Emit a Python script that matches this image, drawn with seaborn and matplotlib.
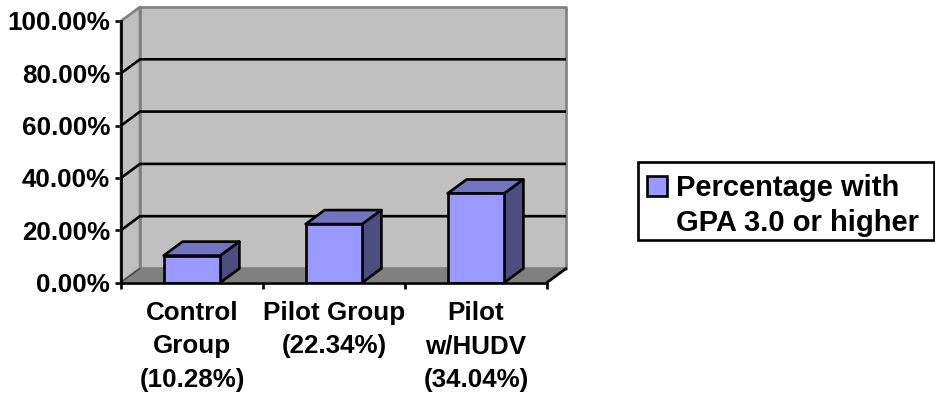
import matplotlib
matplotlib.use("Agg")
import matplotlib.pyplot as plt
from matplotlib.patches import Polygon
import pandas as pd
import seaborn as sns

categories = ["Control\nGroup\n(10.28%)", "Pilot Group\n(22.34%)", "Pilot\nw/HUDV\n(34.04%)"]
values = [10.28, 22.34, 34.04]
series_name = "Percentage with\nGPA 3.0 or higher"
y_ticks = [0, 20, 40, 60, 80, 100]
y_tick_labels = ["0.00%", "20.00%", "40.00%", "60.00%", "80.00%", "100.00%"]

FRONT, TOP, SIDE = "#9999FF", "#7373BF", "#4D4D80"
WALL, FLOOR = "#C0C0C0", "#808080"
EDGE_LW = 1.9

sns.set_style("white")
plt.rcParams["font.family"] = ["Liberation Sans", "DejaVu Sans"]
plt.rcParams["font.weight"] = "bold"
plt.rcParams["text.color"] = "black"
plt.rcParams["xtick.labelcolor"] = "black"
plt.rcParams["ytick.labelcolor"] = "black"

W, H = 935, 396
fig = plt.figure(figsize=(W / 100, H / 100), dpi=100)
# Front plane of the pseudo-3D box
ax = fig.add_axes([121 / W, 1 - 282.5 / H, 426 / W, 261.5 / H])
ax.patch.set_visible(False)

df = pd.DataFrame({"group": categories, "share": values})
sns.barplot(data=df, x="group", y="share", order=categories, color=FRONT, saturation=1,
            width=0.4, edgecolor="black", linewidth=EDGE_LW, ax=ax, zorder=5,
            label=series_name)
ax.set_xlim(-0.5, 2.5)
ax.set_ylim(0, 100)
ax.set_xlabel("")
ax.set_ylabel("")

# Receding depth of the box, in data units
DX, DY = 19 / 142, 14 / 2.615


def poly(points, face, edge="none", lw=0.0, z=1):
    ax.add_patch(Polygon(points, closed=True, facecolor=face, edgecolor=edge,
                         linewidth=lw, clip_on=False, zorder=z, joinstyle="round"))


# Back wall, left wall and floor
x0, x1 = -0.5, 2.5
poly([(x0 + DX, DY), (x1 + DX, DY), (x1 + DX, 100 + DY), (x0 + DX, 100 + DY)], WALL, FLOOR, EDGE_LW, 1)
poly([(x0, 0), (x0 + DX, DY), (x0 + DX, 100 + DY), (x0, 100)], WALL, FLOOR, EDGE_LW, 1)
poly([(x0, 0), (x1, 0), (x1 + DX, DY), (x0 + DX, DY)], FLOOR, z=2)
ax.plot([x0, x0 + DX, x1 + DX, x1], [0, DY, DY, 0], color=FLOOR, lw=EDGE_LW, clip_on=False, zorder=2)

# Gridlines run across the back wall and down the left wall
for t in y_ticks[1:-1]:
    ax.plot([x0, x0 + DX, x1 + DX], [t, t + DY, t + DY], color="black", lw=EDGE_LW,
            clip_on=False, zorder=3, solid_capstyle="butt")
ax.plot([x0, x0 + DX], [0, DY], color="#404040", lw=0.8, clip_on=False, zorder=3)
ax.plot([x1, x1 + DX], [0, DY], color="black", lw=EDGE_LW, clip_on=False, zorder=3)

# Top and side faces of each bar
half = 0.2
for i, v in enumerate(values):
    l, r = i - half, i + half
    poly([(l, v), (r, v), (r + DX, v + DY), (l + DX, v + DY)], TOP, "black", EDGE_LW, 4)
    poly([(r, 0), (r, v), (r + DX, v + DY), (r + DX, DY)], SIDE, "black", EDGE_LW, 4)

ax.set_yticks(y_ticks, y_tick_labels, fontsize=18.7, fontweight="bold")
ax.set_xticks(range(len(categories)), categories, fontsize=18.7, fontweight="bold", linespacing=1.52)
ax.set_xticks([-0.5, 0.5, 1.5, 2.5], minor=True)
ax.tick_params(axis="y", which="major", left=True, length=4.5, width=EDGE_LW, pad=3.5, color="black")
ax.tick_params(axis="x", which="major", bottom=False, length=0, pad=13)
ax.tick_params(axis="x", which="minor", bottom=True, length=4, width=EDGE_LW, color="black")

sns.despine(ax=ax, top=True, right=True)
for side in ("left", "bottom"):
    ax.spines[side].set_color("black")
    ax.spines[side].set_linewidth(EDGE_LW)
    ax.spines[side].set_zorder(6)

# Boxed legend on the right, stretched to its full box width
leg = ax.legend(loc="upper left", bbox_to_anchor=(638 / W, 1 - 162 / H, 296 / W, 0.0001),
                bbox_transform=fig.transFigure, mode="expand",
                prop={"family": "Liberation Sans", "weight": "bold", "size": 21},
                frameon=True, fancybox=False, framealpha=1, edgecolor="black",
                borderpad=0.27, handlelength=0.69, handleheight=0.69, handletextpad=0.33,
                labelspacing=0, borderaxespad=0)
leg.get_frame().set_linewidth(EDGE_LW)
for txt in leg.get_texts():
    txt.set_linespacing(1.3)
    txt.set_y(-4.6)
handle = leg.legend_handles[0]
handle.set_edgecolor("black")
handle.set_linewidth(EDGE_LW)
handle.set_y(11.6)
handle.set_x(0.5)

fig.savefig("out.png", dpi=100)
